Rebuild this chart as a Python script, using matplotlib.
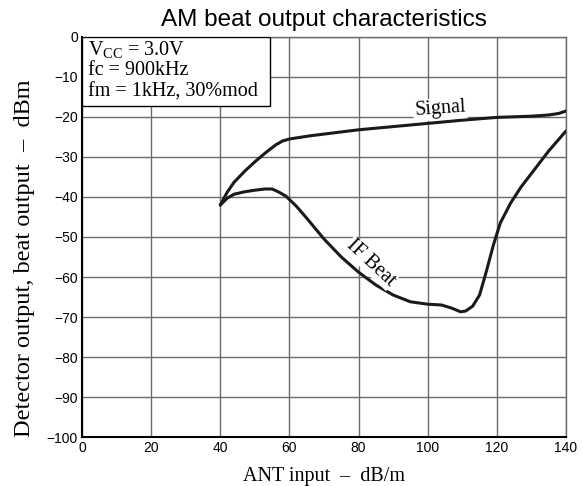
import matplotlib
matplotlib.use("Agg")
import matplotlib.pyplot as plt
from matplotlib.patches import Rectangle

signal_x = [40, 42, 44, 47, 50, 53, 56, 58, 60, 66, 80, 100, 110, 120, 130, 135, 138, 140]
signal_y = [-42, -38.8, -36.3, -33.6, -31.2, -29, -27, -26, -25.5, -24.7, -23.2, -21.6,
            -20.8, -20.1, -19.8, -19.5, -19.1, -18.5]

beat_x = [40, 42, 44, 47, 50, 53, 55, 57, 59, 62, 65, 70, 75, 80, 85, 90, 95, 100, 104,
          107, 109.5, 111, 113, 115, 117, 119, 121, 124, 127, 131, 135, 140]
beat_y = [-42, -40.3, -39.3, -38.7, -38.3, -38.0, -38.0, -38.8, -39.8, -42.3, -45.3, -50.5,
          -55, -58.8, -62, -64.5, -66.2, -66.8, -67.0, -67.8, -68.7, -68.5, -67.3, -64.5,
          -58.5, -52, -46.5, -41.5, -37.5, -33, -28.5, -23.5]

x_ticks = [0, 20, 40, 60, 80, 100, 120, 140]
y_ticks = [0, -10, -20, -30, -40, -50, -60, -70, -80, -90, -100]

plt.rcParams["mathtext.fontset"] = "custom"
plt.rcParams["mathtext.rm"] = "Liberation Serif"

SERIF = "Liberation Serif"

fig = plt.figure(figsize=(5.83, 4.86), dpi=100)
ax = fig.add_axes([0.1407, 0.1008, 0.8301, 0.8231])
ax.set_xlim(0, 140)
ax.set_ylim(-100, 0)
ax.set_xticks(x_ticks)
ax.set_yticks(y_ticks)
ax.set_xticklabels([str(v) for v in x_ticks], family="Liberation Sans", fontsize=10)
ax.set_yticklabels([("\u2212" + str(-v)) if v < 0 else str(v) for v in y_ticks],
                   family="Liberation Sans", fontsize=10)
ax.tick_params(length=0, pad=3)
ax.grid(True, color="#6a6a6a", linewidth=1.0)
ax.set_axisbelow(True)
for s in ["left", "bottom"]:
    ax.spines[s].set_linewidth(1.5)
    ax.spines[s].set_color("black")
for s in ["right", "top"]:
    ax.spines[s].set_linewidth(1.0)
    ax.spines[s].set_color("#6a6a6a")

ax.plot(signal_x, signal_y, color="#1a1a1a", linewidth=2.2, solid_capstyle="round", zorder=3)
ax.plot(beat_x, beat_y, color="#1a1a1a", linewidth=2.2, solid_capstyle="round", zorder=3)

ax.text(103.6, -18.0, "Signal", family=SERIF, fontsize=14.5, rotation=4,
        ha="center", va="center", zorder=4,
        bbox=dict(facecolor="white", edgecolor="none", pad=1))
ax.text(83.5, -56.5, "IF Beat", family=SERIF, fontsize=14.5, rotation=-43,
        ha="center", va="center", zorder=4,
        bbox=dict(facecolor="white", edgecolor="none", pad=0.5))

ax.add_patch(Rectangle((0, -17.2), 54.5, 17.2, facecolor="white", edgecolor="black",
                       linewidth=1.0, zorder=5))
ax.text(1.7, -4.6, r"V$_{\mathrm{CC}}$ = 3.0V", family=SERIF, fontsize=14.5,
        ha="left", va="baseline", zorder=6)
ax.text(1.7, -9.6, "fc = 900kHz", family=SERIF, fontsize=14.5,
        ha="left", va="baseline", zorder=6)
ax.text(1.7, -15.0, "fm = 1kHz, 30%mod", family=SERIF, fontsize=14.5,
        ha="left", va="baseline", zorder=6)

ax.set_xlabel("ANT input  \u2013  dB/m", family=SERIF, fontsize=14.5)
ax.xaxis.set_label_coords(0.5, -0.11)
ax.xaxis.label.set_va("baseline")
ax.set_ylabel("Detector output, beat output  \u2013  dBm", family=SERIF, fontsize=17.5)
ax.yaxis.set_label_coords(-0.118, 0.4475)
ax.yaxis.label.set_va("center")
ax.yaxis.label.set_ha("center")
ax.set_title("AM beat output characteristics", family="Liberation Sans", fontsize=17.5, pad=8)

fig.savefig("out.png", dpi=100)
